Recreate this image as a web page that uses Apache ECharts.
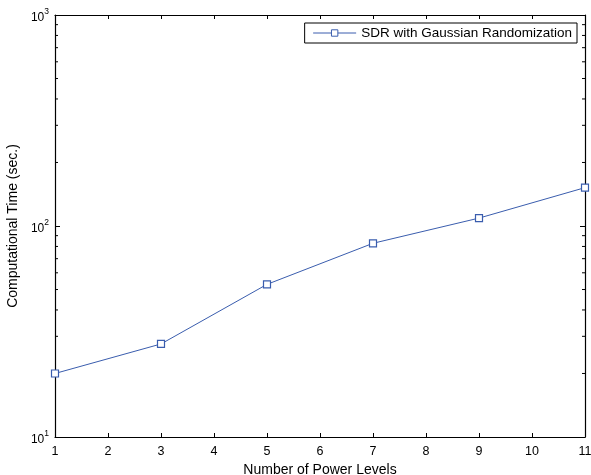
<!DOCTYPE html>
<html>
<head>
<meta charset="utf-8">
<script src="https://cdn.jsdelivr.net/npm/echarts@6/dist/echarts.min.js"></script>
<style>html,body{margin:0;padding:0;background:#fff;}#c{width:591px;height:475px;}</style>
</head>
<body>
<div id="c"></div>
<script>
var xValues = [1, 3, 5, 7, 9, 11];
var timeValues = [20, 27.6, 52.9, 82.8, 109, 152];
var seriesName = 'SDR with Gaussian Randomization';
var xTicks = [1,2,3,4,5,6,7,8,9,10,11];
var yMajor = [10, 100, 1000];
var yMinor = [20,30,40,50,60,70,80,90,200,300,400,500,600,700,800,900];

var chart = echarts.init(document.getElementById('c'), null, {renderer:'canvas'});
var font = 'Liberation Sans, Arial, Helvetica, sans-serif';
var lineColor = '#3a5dae';

var data = xValues.map(function(x,i){return [x, timeValues[i]];});

function expLabel(v){
  var e = Math.round(Math.log10(v));
  return '{b|10}{s|' + e + '}';
}

var option = {
  animation: false,
  backgroundColor: '#fff',
  grid: {left: 55, right: 6, top: 15, bottom: 38, show: false, containLabel: false, outerBoundsMode: 'none'},
  legend: {
    data: [seriesName],
    right: 14, top: 23,
    orient: 'horizontal',
    backgroundColor: '#fff',
    borderColor: '#000',
    borderWidth: 1,
    borderRadius: 0,
    padding: [3, 5, 3, 8],
    itemWidth: 43,
    itemHeight: 8,
    itemGap: 4,
    lineStyle: {width: 1},
    itemStyle: {borderWidth: 1},
    textStyle: {fontFamily: font, fontSize: 13.5, color: '#000'}
  },
  xAxis: [{
    type: 'value', min: 1, max: 11, interval: 1,
    position: 'bottom',
    name: 'Number of Power Levels', nameLocation: 'middle', nameGap: 20,
    nameTextStyle: {fontFamily: font, fontSize: 14, color: '#000'},
    axisLine: {show: true, lineStyle: {color: '#000', width: 1.2}},
    axisTick: {show: true, inside: true, length: 4, lineStyle: {color: '#000'}},
    axisLabel: {fontFamily: font, fontSize: 12.5, color: '#000', margin: 8},
    splitLine: {show: false}
  },{
    type: 'value', min: 1, max: 11, interval: 1,
    position: 'top',
    axisLine: {show: true, lineStyle: {color: '#000', width: 1.2}},
    axisTick: {show: true, inside: true, length: 4, lineStyle: {color: '#000'}},
    axisLabel: {show: false},
    splitLine: {show: false}
  }],
  yAxis: [{
    type: 'log', logBase: 10, min: 10, max: 1000,
    position: 'left',
    name: 'Computational Time (sec.)', nameLocation: 'middle', nameGap: 28,
    nameTextStyle: {fontFamily: font, fontSize: 14, color: '#000'},
    axisLine: {show: true, lineStyle: {color: '#000', width: 1.2}},
    axisTick: {show: true, inside: true, length: 5, lineStyle: {color: '#000'}},
    axisLabel: {
      fontFamily: font, color: '#000', margin: 6,
      formatter: expLabel,
      rich: {
        b: {fontFamily: font, fontSize: 12, color: '#000', padding: [6,0,0,0]},
        s: {fontFamily: font, fontSize: 8.5, color: '#000', padding: [0,0,7,0]}
      }
    },
    splitLine: {show: false}
  },{
    type: 'log', logBase: 10, min: 10, max: 1000,
    position: 'right',
    axisLine: {show: true, lineStyle: {color: '#000', width: 1.2}},
    axisTick: {show: true, inside: true, length: 5, lineStyle: {color: '#000'}},
    axisLabel: {show: false},
    splitLine: {show: false}
  }],
  series: [{
    name: seriesName,
    type: 'line',
    data: data,
    xAxisIndex: 0, yAxisIndex: 0,
    symbol: 'rect',
    symbolSize: 7,
    showAllSymbol: true,
    lineStyle: {color: lineColor, width: 1},
    itemStyle: {color: '#fff', borderColor: lineColor, borderWidth: 1.2},
    z: 5
  },{
    name: 'minorTicks',
    type: 'custom',
    xAxisIndex: 0, yAxisIndex: 0,
    silent: true,
    data: yMinor.map(function(v){return [1, v];}),
    renderItem: function(params, api){
      var y = api.coord([1, api.value(1)])[1];
      var xl = api.coord([1, 10])[0];
      var xr = api.coord([11, 10])[0];
      return {
        type: 'group',
        children: [
          {type:'line', shape:{x1:xl, y1:y, x2:xl+3, y2:y}, style:{stroke:'#000', lineWidth:1}},
          {type:'line', shape:{x1:xr, y1:y, x2:xr-3, y2:y}, style:{stroke:'#000', lineWidth:1}}
        ]
      };
    },
    z: 3
  }]
};
chart.setOption(option);
</script>
</body>
</html>
